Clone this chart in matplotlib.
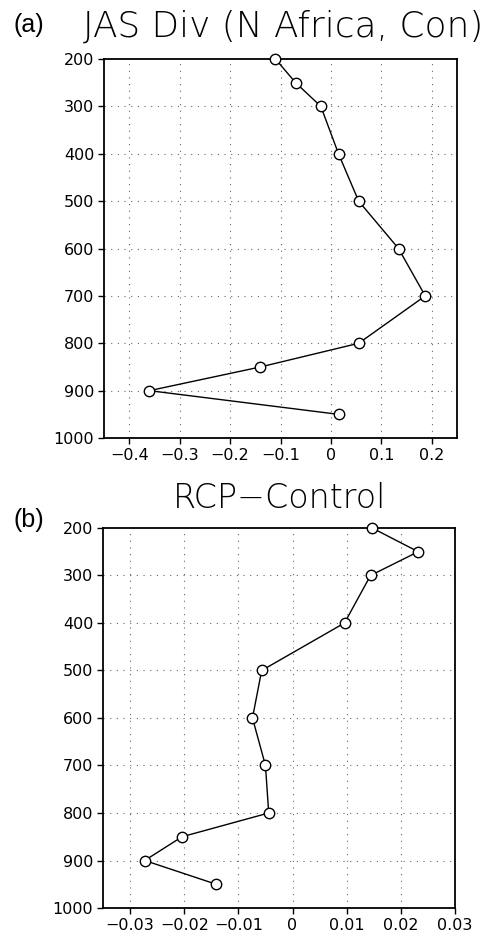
import matplotlib
matplotlib.use("Agg")
import matplotlib.pyplot as plt

levels = [200, 250, 300, 400, 500, 600, 700, 800, 850, 900, 950]
div_con = [-0.11, -0.07, -0.02, 0.015, 0.055, 0.134, 0.187, 0.055, -0.14, -0.36, 0.015]
div_diff = [0.0147, 0.0232, 0.0144, 0.0096, -0.0057, -0.0074, -0.005, -0.0044, -0.0204, -0.0273, -0.0141]

xticks_a = [-0.4, -0.3, -0.2, -0.1, 0, 0.1, 0.2]
xlabels_a = ["\u22120.4", "\u22120.3", "\u22120.2", "\u22120.1", "0", "0.1", "0.2"]
xticks_b = [-0.03, -0.02, -0.01, 0, 0.01, 0.02, 0.03]
xlabels_b = ["\u22120.03", "\u22120.02", "\u22120.01", "0", "0.01", "0.02", "0.03"]
yticks = [200, 300, 400, 500, 600, 700, 800, 900, 1000]

plt.rcParams['font.family'] = ['DejaVu Sans']

fig = plt.figure(figsize=(4.87, 9.31), dpi=100)
fig.patch.set_facecolor('white')

def panel(rect, x, xlim, xt, xl, title, tag, title_pos, title_size, tag_pos):
    ax = fig.add_axes(rect)
    ax.plot(x, levels, color='black', lw=1.0, marker='o', ms=7.5,
            mfc='white', mec='black', mew=1.0, zorder=3, clip_on=False)
    ax.set_xlim(*xlim)
    ax.set_ylim(1000, 200)
    ax.set_xticks(xt)
    ax.set_xticklabels(xl)
    ax.set_yticks(yticks)
    ax.set_yticklabels([str(v) for v in yticks])
    ax.tick_params(axis='both', direction='out', length=4, width=1,
                   labelsize=11.5, colors='black', pad=3)
    ax.tick_params(top=False, right=False)
    for s in ax.spines.values():
        s.set_linewidth(1.3)
    for v in xt:
        ax.axvline(v, color='#666666', lw=0.8, ls=(0, (1, 5)), zorder=1)
    for v in yticks[1:-1]:
        ax.axhline(v, color='#666666', lw=0.8, ls=(0, (1, 5)), zorder=1)
    fig.text(title_pos[0], title_pos[1], title, ha='center', va='center',
             fontsize=title_size, fontweight='light', color='black')
    fig.text(tag_pos[0], tag_pos[1], tag, ha='left', va='center', fontsize=18,
             fontfamily='Liberation Sans', color='black')
    return ax

panel([0.2136, 0.5295, 0.7248, 0.4071], div_con, (-0.45, 0.25), xticks_a, xlabels_a,
      "JAS Div (N Africa, Con)", "(a)", (0.582, 0.971), 25.8, (0.027, 0.973))
panel([0.2115, 0.0247, 0.7228, 0.4082], div_diff, (-0.035, 0.03), xticks_b, xlabels_b,
      "RCP\u2212Control", "(b)", (0.575, 0.465), 24, (0.027, 0.4415))

fig.savefig("out.png", dpi=100, facecolor='white')
